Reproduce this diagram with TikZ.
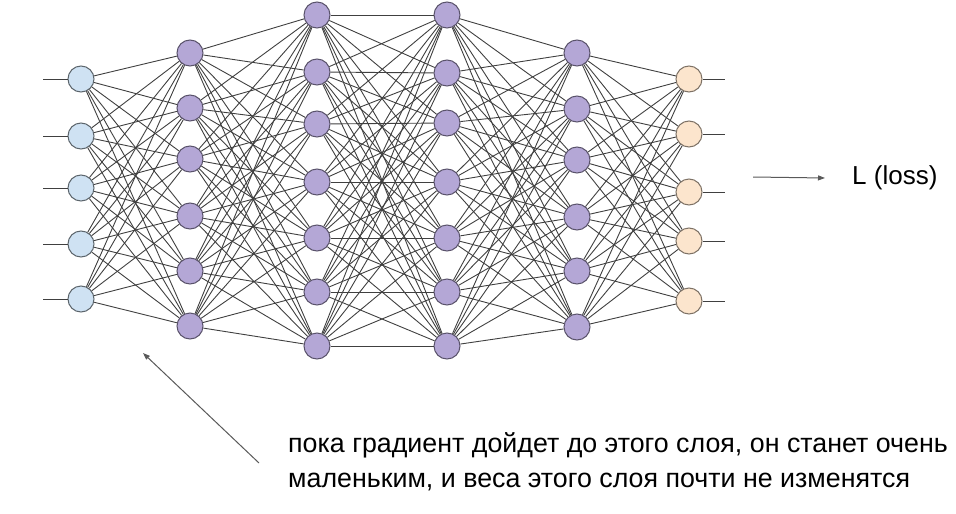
\documentclass[tikz,border=0pt]{standalone}
\usepackage{fontspec}
\setmainfont{Liberation Sans}
\usetikzlibrary{arrows.meta,positioning}

\definecolor{inblue}{HTML}{CFE2F3}
\definecolor{hidpurple}{HTML}{B4A7D6}
\definecolor{outpeach}{HTML}{FCE5CD}

\begin{document}
\begin{tikzpicture}[x=1pt,y=-1pt,
	neuron/.style={circle,draw=black!60,line width=1pt,minimum size=26pt,inner sep=0pt},
	inneuron/.style={neuron,fill=inblue,draw=black!55!inblue},
	hidneuron/.style={neuron,fill=hidpurple,draw=black!50!hidpurple},
	outneuron/.style={neuron,fill=outpeach,draw=black!50!outpeach},
	wire/.style={black!75,line width=0.9pt},
	pointer/.style={-{Triangle[length=7pt,width=5pt]},black!65,line width=1pt}]
	\useasboundingbox (0,0) rectangle (956,514);

	% layers
	\foreach \y [count=\n] in {79,136,188,244,299}
		\node[inneuron] (A\n) at (81,\y) {};
	\foreach \y [count=\n] in {53,108,159,216,271,326}
		\node[hidneuron] (B\n) at (190,\y) {};
	\foreach \y [count=\n] in {15,72,124,182,238,292,346}
		\node[hidneuron] (C\n) at (317,\y) {};
	\foreach \y [count=\n] in {15,73,123,182,238,292,346}
		\node[hidneuron] (D\n) at (447,\y) {};
	\foreach \y [count=\n] in {53,109,160,217,271,327}
		\node[hidneuron] (E\n) at (577,\y) {};
	\foreach \y [count=\n] in {79,134,192,241,301}
		\node[outneuron] (F\n) at (689,\y) {};

	% weights
	\foreach \i in {1,...,5} \foreach \j in {1,...,6}
		\draw[wire] (A\i) -- (B\j);
	\foreach \i in {1,...,6} \foreach \j in {1,...,7}
		\draw[wire] (B\i) -- (C\j);
	\foreach \i in {1,...,7} \foreach \j in {1,...,7}
		\draw[wire] (C\i) -- (D\j);
	\foreach \i in {1,...,7} \foreach \j in {1,...,6}
		\draw[wire] (D\i) -- (E\j);
	\foreach \i in {1,...,6} \foreach \j in {1,...,5}
		\draw[wire] (E\i) -- (F\j);

	% inputs and outputs
	\foreach \n in {1,...,5} {
		\coordinate (in\n) at (A\n -| 43,0);
		\draw[wire] (in\n) -- (A\n);
		\coordinate (out\n) at (F\n -| 725,0);
		\draw[wire] (F\n) -- (out\n);
	}

	% loss
	\node[font=\fontsize{26}{30}\selectfont,anchor=base west,inner sep=0pt] (loss) at (852,184) {L (loss)};
	\coordinate (lossfrom) at (753,177);
	\coordinate (lossto) at (825,178);
	\draw[pointer] (lossfrom) -- (lossto);

	% note
	\node[font=\fontsize{26.8}{35}\selectfont,align=left,anchor=base west,inner sep=0pt] (note) at (288,487)
		{пока градиент дойдет до этого слоя, он станет очень\\маленьким, и веса этого слоя почти не изменятся};
	\coordinate (notefrom) at (259,463);
	\coordinate (noteto) at (143,353);
	\draw[pointer] (notefrom) -- (noteto);
\end{tikzpicture}
\end{document}
